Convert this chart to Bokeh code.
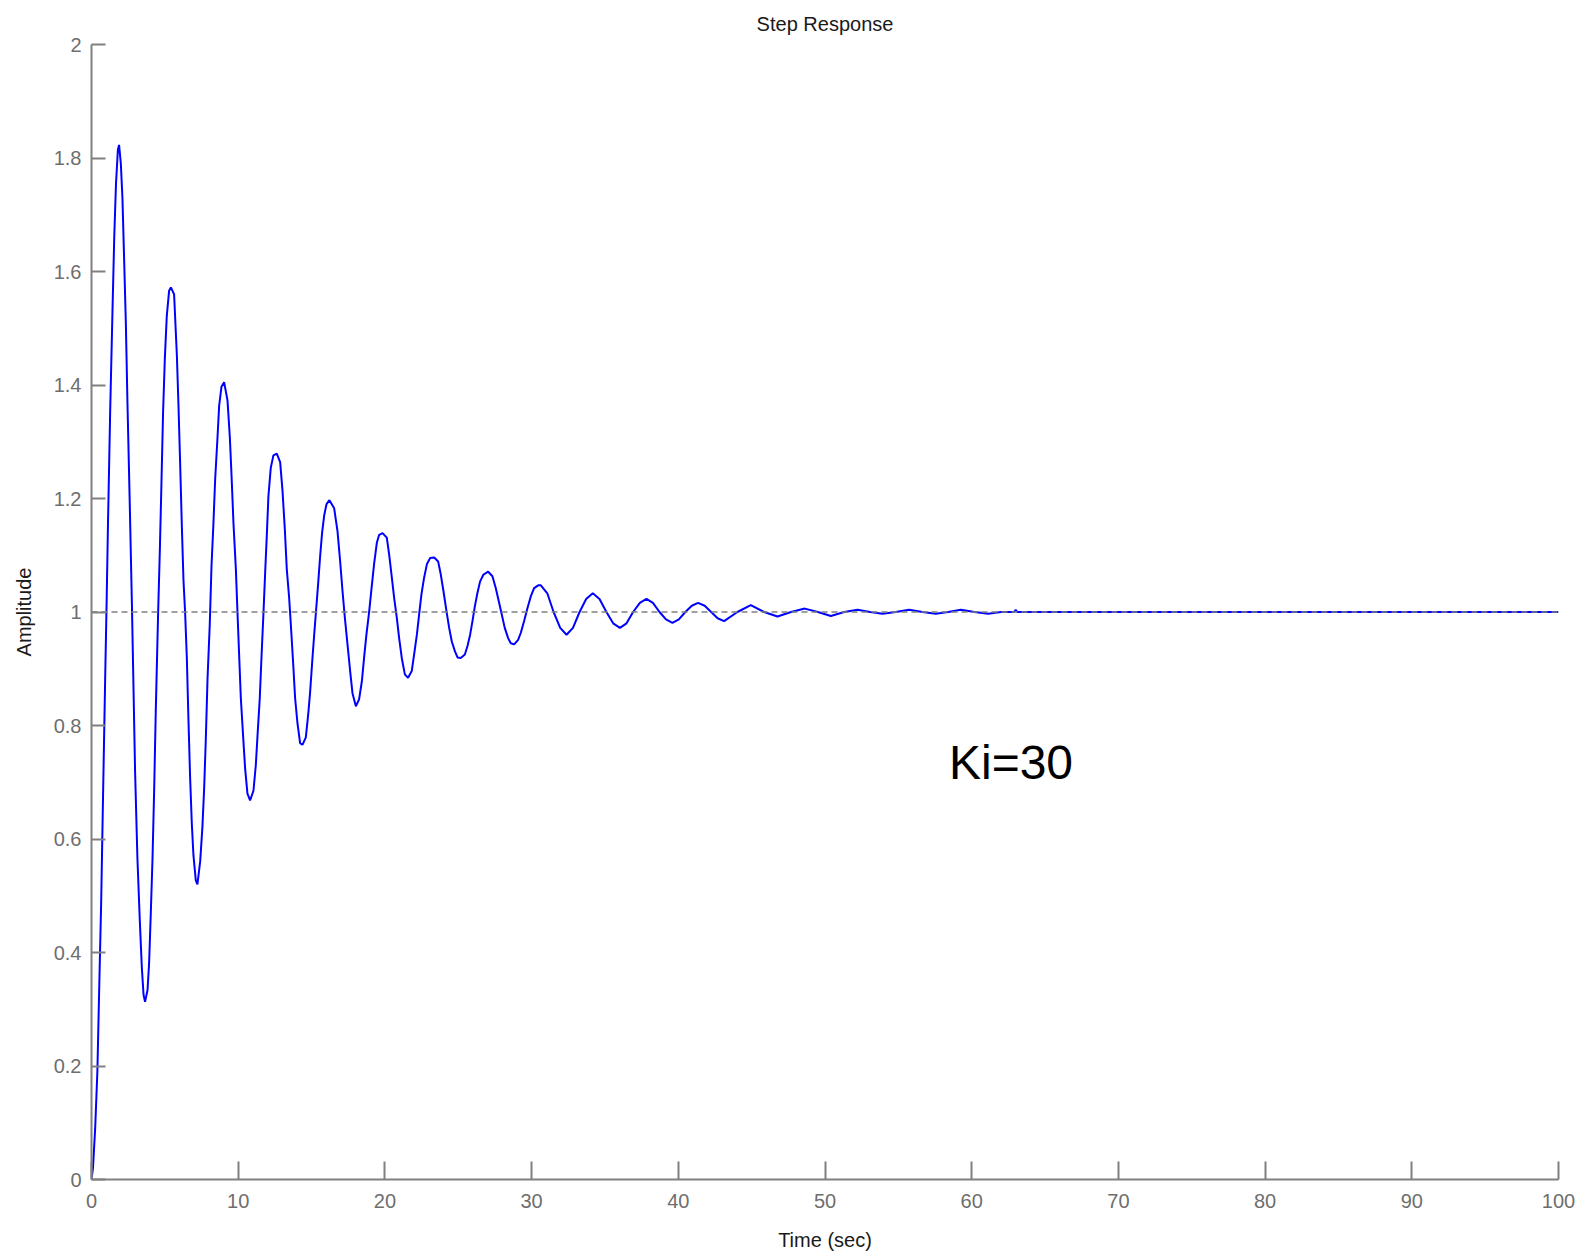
from bokeh.plotting import figure
from bokeh.models import ColumnDataSource, Range1d, FixedTicker, Span, Label, CustomJSTickFormatter
from bokeh.embed import file_html
from bokeh.resources import INLINE

# ---- data ----
time_s = [
    0, 0.1, 0.25, 0.4, 0.52, 0.66, 0.79, 0.93, 1.04, 1.12, 1.27, 1.43, 1.55, 1.67, 1.8, 1.88,
    2.0, 2.11, 2.22, 2.34, 2.45, 2.6, 2.75, 2.86, 2.97, 3.13, 3.29, 3.43, 3.55, 3.65,
    3.82, 3.93, 4.04, 4.16, 4.27, 4.38, 4.54, 4.66, 4.77, 4.88, 5.0, 5.13, 5.29, 5.41,
    5.63, 5.82, 5.93, 6.04, 6.16, 6.27, 6.38, 6.5, 6.61, 6.72, 6.84, 6.95, 7.11, 7.22,
    7.41, 7.56, 7.68, 7.79, 7.91, 8.06, 8.18, 8.31, 8.43, 8.59, 8.7, 8.86, 9.04,
    9.27, 9.43, 9.54, 9.68, 9.84, 9.95, 10.06, 10.18, 10.34, 10.47, 10.63, 10.81,
    11.04, 11.2, 11.31, 11.47, 11.59, 11.72, 11.84, 11.95, 12.06, 12.22, 12.4, 12.63,
    12.86, 13.02, 13.18, 13.31, 13.47, 13.59, 13.75, 13.88, 14.04, 14.22, 14.38,
    14.61, 14.77, 14.9, 15.06, 15.18, 15.3, 15.45, 15.59, 15.72, 15.86, 16.02, 16.22,
    16.54, 16.77, 16.95, 17.11, 17.27, 17.45, 17.63, 17.79, 18.02,
    18.24, 18.43, 18.58, 18.74, 18.93, 19.09, 19.27, 19.45, 19.61, 19.84,
    20.13, 20.29, 20.45, 20.63, 20.81, 20.97, 21.15, 21.36, 21.58,
    21.83, 21.99, 22.18, 22.33, 22.49, 22.67, 22.86, 23.08, 23.36,
    23.63, 23.81, 23.99, 24.2, 24.38, 24.56, 24.77, 24.95, 25.17,
    25.45, 25.63, 25.81, 25.97, 26.13, 26.31, 26.49, 26.72, 27.04,
    27.33, 27.56, 27.79, 27.97, 28.17, 28.4, 28.58, 28.81,
    29.08, 29.26, 29.49, 29.72, 29.95, 30.17, 30.45, 30.63,
    31.07, 31.5, 31.95, 32.38, 32.82, 33.27, 33.72, 34.17,
    34.63, 35.1, 35.56, 36.02, 36.47, 36.92, 37.38, 37.83,
    38.27, 38.72, 39.16, 39.6, 40.04, 40.48, 40.92, 41.35,
    41.8, 42.24, 42.68, 43.12, 44.03, 44.94, 45.85, 46.76, 47.69, 48.62,
    49.51, 50.4, 51.31, 52.22, 53.07, 53.92, 54.82, 55.73, 56.64, 57.55,
    58.4, 59.26, 60.19, 61.12, 62.0, 62.9, 63.0, 63.1, 100.0,
]
amplitude = [
    0, 0.02, 0.09, 0.19, 0.33, 0.49, 0.68, 0.88, 1.03, 1.15, 1.35, 1.53, 1.66, 1.755, 1.815, 1.823,
    1.79, 1.729, 1.625, 1.511, 1.37, 1.2, 1.02, 0.87, 0.72, 0.566, 0.458, 0.374, 0.325, 0.313,
    0.334, 0.383, 0.468, 0.566, 0.685, 0.824, 0.997, 1.11, 1.229, 1.353, 1.447, 1.521, 1.566, 1.572,
    1.56, 1.452, 1.363, 1.264, 1.15, 1.056, 1.0, 0.918, 0.809, 0.71, 0.626, 0.571, 0.527, 0.52,
    0.561, 0.621, 0.69, 0.774, 0.883, 0.977, 1.081, 1.155, 1.234, 1.308, 1.363, 1.397, 1.405,
    1.373, 1.308, 1.244, 1.155, 1.076, 1.0, 0.927, 0.848, 0.779, 0.725, 0.68, 0.668,
    0.685, 0.73, 0.779, 0.848, 0.922, 0.997, 1.071, 1.135, 1.204, 1.254, 1.276, 1.279,
    1.264, 1.214, 1.145, 1.076, 1.026, 0.977, 0.908, 0.848, 0.804, 0.769, 0.766,
    0.779, 0.819, 0.858, 0.918, 0.96, 1.0, 1.05, 1.1, 1.14, 1.17, 1.19, 1.197,
    1.183, 1.142, 1.089, 1.037, 0.99, 0.943, 0.896, 0.857, 0.834,
    0.846, 0.878, 0.919, 0.96, 1.001, 1.042, 1.086, 1.122, 1.136, 1.139,
    1.131, 1.101, 1.066, 1.025, 0.99, 0.954, 0.919, 0.89, 0.884,
    0.896, 0.925, 0.96, 0.995, 1.031, 1.06, 1.084, 1.095, 1.096,
    1.089, 1.066, 1.037, 1.001, 0.972, 0.948, 0.931, 0.92, 0.919,
    0.925, 0.94, 0.96, 0.984, 1.01, 1.034, 1.054, 1.066, 1.071,
    1.063, 1.042, 1.016, 0.995, 0.972, 0.954, 0.945, 0.943,
    0.951, 0.963, 0.984, 1.007, 1.028, 1.042, 1.047, 1.047,
    1.033, 1.0, 0.972, 0.96, 0.972, 1.0, 1.023, 1.033,
    1.023, 1.0, 0.98, 0.972, 0.98, 1.0, 1.016, 1.023,
    1.016, 1.0, 0.987, 0.981, 0.987, 1.0, 1.011, 1.016,
    1.011, 1.0, 0.989, 0.984, 1.0, 1.012, 1.0, 0.992, 1.0, 1.006,
    1.0, 0.993, 1.0, 1.004, 1.0, 0.997, 1.0, 1.004, 1.0, 0.997,
    1.0, 1.004, 1.0, 0.997, 1.0, 1.0, 1.004, 1.0, 1.0,
]
steady_state = 1.0
x_ticks = [0, 10, 20, 30, 40, 50, 60, 70, 80, 90, 100]
y_ticks = [0, 0.2, 0.4, 0.6, 0.8, 1, 1.2, 1.4, 1.6, 1.8, 2]
title_text = "Step Response"
x_label = "Time (sec)"
y_label = "Amplitude"
note_text = "Ki=30"

FONT = "Liberation Sans"
AXIS_GREY = "#808080"
LABEL_GREY = "#6e6e6e"

source = ColumnDataSource(data=dict(t=time_s, a=amplitude))

p = figure(
    frame_width=1467, frame_height=1135,
    min_border_left=91, min_border_right=25, min_border_top=43, min_border_bottom=78,
    x_range=Range1d(0, 100), y_range=Range1d(0, 2),
    output_backend="svg", toolbar_location=None,
    title=title_text,
)
p.background_fill_color = "white"
p.border_fill_color = "white"
p.outline_line_color = None
p.xgrid.visible = False
p.ygrid.visible = False

p.title.align = "center"
p.title.text_font = FONT
p.title.text_font_size = "20px"
p.title.text_font_style = "normal"
p.title.text_color = "#1a1a1a"
p.title.standoff = 20

for ax in (p.xaxis[0], p.yaxis[0]):
    ax.axis_line_color = AXIS_GREY
    ax.axis_line_width = 2
    ax.major_tick_line_color = AXIS_GREY
    ax.major_tick_line_width = 2
    ax.major_tick_out = 0
    ax.minor_tick_line_color = None
    ax.major_label_text_font = FONT
    ax.major_label_text_font_size = "20px"
    ax.major_label_text_color = LABEL_GREY
    ax.axis_label_text_font = FONT
    ax.axis_label_text_font_size = "20px"
    ax.axis_label_text_font_style = "normal"
    ax.axis_label_text_color = "#1a1a1a"

p.xaxis.ticker = FixedTicker(ticks=x_ticks)
p.yaxis.ticker = FixedTicker(ticks=y_ticks)
p.yaxis.formatter = CustomJSTickFormatter(code="return String(Math.round(tick*10)/10);")
p.xaxis.major_tick_in = 18
p.yaxis.major_tick_in = 14
p.xaxis.major_label_standoff = 14
p.yaxis.major_label_standoff = 10
p.xaxis.axis_label = x_label
p.yaxis.axis_label = y_label
p.xaxis.axis_label_standoff = 18
p.yaxis.axis_label_standoff = 16

ref = Span(location=steady_state, dimension="width", line_color=AXIS_GREY,
           line_width=1.5, line_dash="6 4")
p.add_layout(ref)

p.line("t", "a", source=source, line_color="#0000ff", line_width=2)

note = Label(x=58.45, y=0.735, text=note_text, text_font=FONT, text_font_size="48px",
             text_color="black", text_baseline="alphabetic")
p.add_layout(note)

open("out.html", "w").write(file_html(p, INLINE))
